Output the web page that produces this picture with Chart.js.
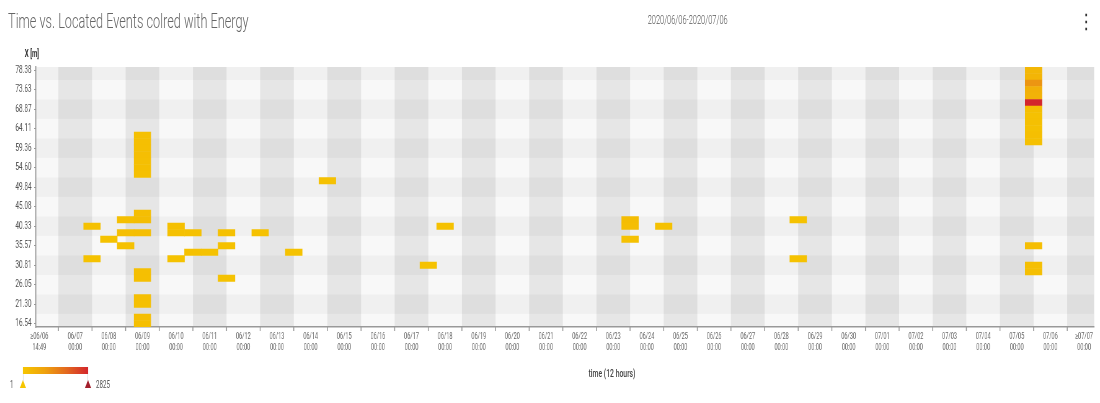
<!DOCTYPE html>
<html>
<head>
<meta charset="utf-8">
<title>Time vs. Located Events colred with Energy</title>
<script src="https://cdn.jsdelivr.net/npm/chart.js@4.4.1/dist/chart.umd.min.js"></script>
<style>
  html, body { margin: 0; padding: 0; background: #fff; overflow: hidden; }
  /* the panel is laid out wide and squeezed horizontally */
  #page { position: absolute; left: 0; top: 0; width: 1774px; height: 403px;
          transform: scaleX(0.62007); transform-origin: 0 0;
          font-family: Roboto, "Noto Sans", sans-serif; }
  #page canvas { position: absolute; left: 0; top: 0; }
  .title { position: absolute; left: 13px; top: 9px; font-size: 20.5px; font-weight: 300;
           color: #666; line-height: 24px; white-space: nowrap; }
  .range { position: absolute; left: 1109px; top: 13px; transform: translateX(-50%);
           font-size: 12px; font-weight: 300; color: #555; line-height: 14px; white-space: nowrap; }
  .menu { position: absolute; left: 1742px; top: 9px; font-size: 20px; font-weight: bold;
          color: #333; line-height: 24px; }
  .ytitle { position: absolute; left: 40px; top: 48px; font-size: 10px; font-weight: bold;
            color: #333; line-height: 12px; white-space: nowrap; }
  .xtitle { position: absolute; left: 987px; top: 367px; transform: translateX(-50%);
            font-size: 11px; font-weight: 500; color: #444; line-height: 14px; white-space: nowrap; }
  .scale-bar { position: absolute; left: 37px; top: 367px; width: 105px; height: 7px; }
  .scale-frame { position: absolute; left: 37px; top: 374px; width: 103px; height: 7px;
                 border-left: 1px solid #ddd; border-right: 1px solid #ddd; }
  .handle { position: absolute; top: 380px; width: 0; height: 0;
            border-left: 5px solid transparent; border-right: 5px solid transparent; }
  .scale-label { position: absolute; top: 379px; font-size: 10px; color: #555; line-height: 12px; }
</style>
</head>
<body>
<div id="page">
  <div class="title">Time vs. Located Events colred with Energy</div>
  <div class="range">2020/06/06-2020/07/06</div>
  <div class="menu">⋮</div>
  <div class="ytitle">X [m]</div>
  <canvas id="chart" width="1774" height="403"></canvas>
  <div class="xtitle">time (12 hours)</div>
  <div class="scale-bar" id="scale-bar"></div>
  <div class="scale-frame"></div>
  <div class="handle" id="handle-lo" style="left: 32px;"></div>
  <div class="handle" id="handle-hi" style="left: 137px;"></div>
  <div class="scale-label" id="energy-lo" style="left: 16px;"></div>
  <div class="scale-label" id="energy-hi" style="left: 155px;"></div>
</div>
<script>
// Axis ticks
const tickLabels = [
    '≥06/06 14:49', '06/07 00:00', '06/08 00:00', '06/09 00:00', '06/10 00:00', '06/11 00:00',
    '06/12 00:00', '06/13 00:00', '06/14 00:00', '06/15 00:00', '06/16 00:00', '06/17 00:00',
    '06/18 00:00', '06/19 00:00', '06/20 00:00', '06/21 00:00', '06/22 00:00', '06/23 00:00',
    '06/24 00:00', '06/25 00:00', '06/26 00:00', '06/27 00:00', '06/28 00:00', '06/29 00:00',
    '06/30 00:00', '07/01 00:00', '07/02 00:00', '07/03 00:00', '07/04 00:00', '07/05 00:00',
    '07/06 00:00', '≥07/07 00:00'
];
const yTicks = [16.54, 21.30, 26.05, 30.81, 35.57, 40.33, 45.08, 49.84, 54.60, 59.36, 64.11, 68.87, 73.63, 78.38];

// Located events, binned by 12 hours (bin centre) and by X
const cellTime = [
    '06/08 00:00', '06/08 00:00',
    '06/08 12:00',
    '06/09 00:00', '06/09 00:00', '06/09 00:00',
    '06/09 12:00', '06/09 12:00', '06/09 12:00', '06/09 12:00', '06/09 12:00', '06/09 12:00', '06/09 12:00', '06/09 12:00',
    '06/09 12:00', '06/09 12:00', '06/09 12:00', '06/09 12:00', '06/09 12:00', '06/09 12:00', '06/09 12:00', '06/09 12:00',
    '06/10 12:00', '06/10 12:00', '06/10 12:00',
    '06/11 00:00', '06/11 00:00',
    '06/11 12:00',
    '06/12 00:00', '06/12 00:00', '06/12 00:00',
    '06/13 00:00',
    '06/14 00:00',
    '06/15 00:00',
    '06/18 00:00',
    '06/18 12:00',
    '06/24 00:00', '06/24 00:00', '06/24 00:00',
    '06/25 00:00',
    '06/29 00:00', '06/29 00:00',
    '07/06 00:00', '07/06 00:00', '07/06 00:00', '07/06 00:00', '07/06 00:00', '07/06 00:00', '07/06 00:00', '07/06 00:00',
    '07/06 00:00', '07/06 00:00', '07/06 00:00', '07/06 00:00', '07/06 00:00', '07/06 00:00', '07/06 00:00'
];
const cellX = [
    40.33, 32.40,
    37.15,
    41.91, 38.74, 35.57,
    62.53, 60.94, 59.36, 57.77, 56.19, 54.60, 53.01, 43.50,
    41.91, 38.74, 29.23, 27.64, 22.88, 21.30, 18.13, 16.54,
    40.33, 38.74, 32.40,
    38.74, 33.98,
    33.98,
    38.74, 35.57, 27.64,
    38.74,
    33.98,
    51.43,
    30.81,
    40.33,
    41.91, 40.33, 37.15,
    40.33,
    41.91, 32.40,
    78.38, 76.80, 75.21, 73.63, 72.04, 70.46, 68.87, 67.29,
    65.70, 64.11, 62.53, 60.94, 35.57, 30.81, 29.23
];
const cellEnergy = [
    120, 90,
    80,
    150, 170, 110,
    140, 160, 150, 180, 170, 150, 130, 200,
    210, 190, 160, 150, 170, 140, 180, 160,
    130, 110, 90,
    120, 100,
    90,
    110, 100, 80,
    100,
    90,
    120,
    80,
    100,
    210, 180, 120,
    100,
    90, 80,
    380, 420, 1150, 560, 520, 2825, 160, 120,
    140, 110, 150, 130, 180, 150, 170
];
const energyRange = [1, 2825];
const energyColors = ['#f6c500', '#efa20e', '#e3691f', '#d3262c'];

const X_START = '06/06 08:00';
const X_END = '07/07 19:12';

// days since 06/06 00:00
function toDays(s) {
    const [md, hm] = s.split(' ');
    const [mo, d] = md.split('/').map(Number);
    const [h, mi] = hm.split(':').map(Number);
    return (Date.UTC(2020, mo - 1, d, h, mi) - Date.UTC(2020, 5, 6)) / 86400000;
}

function hexToRgb(h) {
    return [1, 3, 5].map(i => parseInt(h.slice(i, i + 2), 16));
}

function energyColor(e) {
    const t = Math.min(1, Math.max(0, (e - energyRange[0]) / (energyRange[1] - energyRange[0])));
    const seg = t * (energyColors.length - 1);
    const i = Math.min(energyColors.length - 2, Math.floor(seg));
    const f = seg - i;
    const a = hexToRgb(energyColors[i]), b = hexToRgb(energyColors[i + 1]);
    const c = a.map((v, k) => Math.round(v + (b[k] - v) * f));
    return `rgb(${c[0]}, ${c[1]}, ${c[2]})`;
}

const xMin = toDays(X_START);
const xMax = toDays(X_END);
const binH = (yTicks[yTicks.length - 1] - yTicks[0]) / ((yTicks.length - 1) * 3);

// colour scale legend
document.getElementById('scale-bar').style.background =
    'linear-gradient(to right, ' + energyColors.join(', ') + ')';
document.getElementById('handle-lo').style.borderBottom = '8px solid ' + energyColors[0];
document.getElementById('handle-hi').style.borderBottom = '8px solid #a31f2c';
document.getElementById('energy-lo').textContent = energyRange[0];
document.getElementById('energy-hi').textContent = energyRange[1];

// grey day columns / X rows behind the cells, tick marks at day boundaries
const bandPlugin = {
    id: 'bands',
    beforeDraw(chart) {
        const { ctx, chartArea: a, scales: { x, y } } = chart;
        ctx.save();
        ctx.beginPath();
        ctx.rect(a.left, a.top, a.right - a.left, a.bottom - a.top);
        ctx.clip();
        ctx.fillStyle = '#f8f8f8';
        ctx.fillRect(a.left, a.top, a.right - a.left, a.bottom - a.top);
        ctx.fillStyle = '#e6e6e6';
        for (let d = 1; d < xMax; d += 2) {
            const l = x.getPixelForValue(d), r = x.getPixelForValue(d + 1);
            ctx.fillRect(l, a.top, r - l, a.bottom - a.top);
        }
        ctx.fillStyle = 'rgba(0, 0, 0, 0.03)';
        yTicks.forEach((v, i) => {
            if (i % 2 === 1) {
                const t = y.getPixelForValue(v + 1.5 * binH), b = y.getPixelForValue(v - 1.5 * binH);
                ctx.fillRect(a.left, t, a.right - a.left, b - t);
            }
        });
        ctx.restore();
    },
    afterDraw(chart) {
        const { ctx, chartArea: a, scales: { x } } = chart;
        ctx.save();
        ctx.strokeStyle = '#999';
        ctx.lineWidth = 1.5;
        ctx.beginPath();
        for (let d = 1; d < xMax; d++) {
            const px = x.getPixelForValue(d);
            ctx.moveTo(px, a.bottom);
            ctx.lineTo(px, a.bottom + 4);
        }
        ctx.stroke();
        ctx.restore();
    }
};

new Chart(document.getElementById('chart'), {
    type: 'bar',
    data: {
        datasets: [{
            data: cellTime.map((t, i) => ({ x: toDays(t), y: [cellX[i] - binH / 2, cellX[i] + binH / 2] })),
            backgroundColor: ctx => energyColor(cellEnergy[ctx.dataIndex]),
            borderWidth: 0,
            barPercentage: 1,
            categoryPercentage: 1
        }]
    },
    options: {
        responsive: false,
        animation: false,
        layout: { padding: { top: 67, right: 9.5, bottom: 0, left: 0 } },
        plugins: { legend: { display: false }, tooltip: { enabled: false } },
        scales: {
            x: {
                type: 'linear',
                min: xMin,
                max: xMax,
                offset: false,
                grid: { display: false, drawTicks: false, offset: false },
                border: { display: true, color: '#999', width: 1.5 },
                afterBuildTicks: scale => {
                    scale.ticks = tickLabels.map((_, i) => ({ value: i === 0 ? xMin + 0.1 : i + 0.5 }));
                },
                afterFit: scale => { scale.height = 76; },
                ticks: {
                    autoSkip: false,
                    maxRotation: 0,
                    minRotation: 0,
                    padding: 5,
                    color: '#6a6a6a',
                    font: { family: 'Roboto', size: 9, lineHeight: 1.15 },
                    callback: (v, i) => tickLabels[i].split(' ')
                }
            },
            y: {
                type: 'linear',
                min: yTicks[0] - binH / 2,
                max: yTicks[yTicks.length - 1] + binH / 2,
                beginAtZero: false,
                grid: { display: true, drawOnChartArea: false, drawTicks: true, tickLength: 3, color: '#999' },
                border: { display: true, color: '#999', width: 1.5 },
                afterBuildTicks: scale => {
                    scale.ticks = yTicks.map(v => ({ value: v }));
                },
                afterFit: scale => { scale.width = 58; },
                ticks: {
                    padding: 4,
                    color: '#555',
                    font: { family: 'Roboto', size: 10.5 },
                    callback: v => v.toFixed(2)
                }
            }
        }
    },
    plugins: [bandPlugin]
});
</script>
</body>
</html>
